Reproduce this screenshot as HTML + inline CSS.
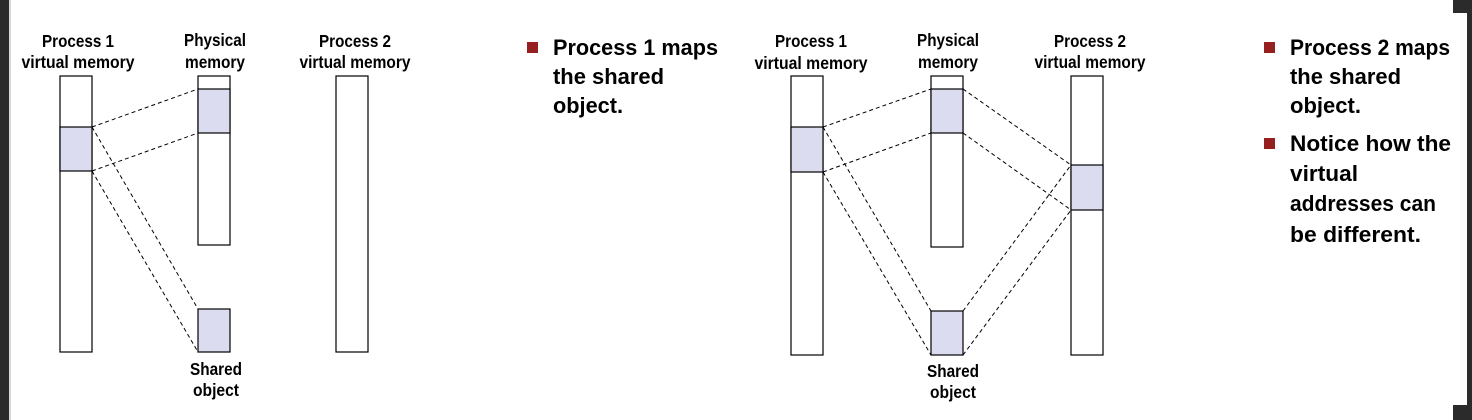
<!DOCTYPE html>
<html><head><style>
html,body{margin:0;padding:0;background:#fff;}
svg{display:block;}
.l{font-family:"Liberation Sans",Arial,sans-serif;font-weight:bold;font-size:17.5px;fill:#000;}
.b{font-family:"Liberation Sans",Arial,sans-serif;font-weight:bold;font-size:22px;fill:#000;}
</style></head><body>
<svg width="1472" height="420" viewBox="0 0 1472 420" xmlns="http://www.w3.org/2000/svg">
<rect x="0" y="0" width="1472" height="420" fill="#fff"/>
<rect x="0" y="0" width="9" height="420" fill="#2b2b2b"/>
<rect x="9" y="0" width="2" height="420" fill="#d8d8d8"/>
<rect x="1453" y="0" width="19" height="13" fill="#2b2b2b"/>
<rect x="1453" y="405" width="19" height="15" fill="#2b2b2b"/>
<rect x="1467" y="0" width="5" height="420" fill="#2b2b2b"/>
<g stroke="#000" stroke-width="1.2" fill="#fff">
<rect x="60" y="76" width="32" height="276"/>
<rect x="60" y="127" width="32" height="44" fill="#dcdcf0"/>
<rect x="198" y="76" width="32" height="169"/>
<rect x="198" y="89" width="32" height="44" fill="#dcdcf0"/>
<rect x="198" y="309" width="32" height="43" fill="#dcdcf0"/>
<rect x="336" y="76" width="32" height="276"/>
<rect x="791" y="76" width="32" height="279"/>
<rect x="791" y="127" width="32" height="45" fill="#dcdcf0"/>
<rect x="931" y="76" width="32" height="171"/>
<rect x="931" y="89" width="32" height="44" fill="#dcdcf0"/>
<rect x="931" y="311" width="32" height="44" fill="#dcdcf0"/>
<rect x="1071" y="76" width="32" height="279"/>
<rect x="1071" y="165" width="32" height="45" fill="#dcdcf0"/>
</g>
<g stroke="#000" stroke-width="1" stroke-dasharray="4,3" fill="none">
<line x1="92" y1="127" x2="198" y2="89"/>
<line x1="92" y1="171" x2="198" y2="133"/>
<line x1="92" y1="127" x2="198" y2="309"/>
<line x1="92" y1="171" x2="198" y2="352"/>
<line x1="823" y1="127" x2="931" y2="89"/>
<line x1="823" y1="172" x2="931" y2="133"/>
<line x1="823" y1="127" x2="931" y2="311"/>
<line x1="823" y1="172" x2="931" y2="355"/>
<line x1="963" y1="89" x2="1071" y2="165"/>
<line x1="963" y1="133" x2="1071" y2="210"/>
<line x1="963" y1="311" x2="1071" y2="165"/>
<line x1="963" y1="355" x2="1071" y2="210"/>
</g>
<g class="l" text-anchor="middle">
<text x="78" y="47" textLength="72" lengthAdjust="spacingAndGlyphs">Process 1</text>
<text x="78" y="68" textLength="113" lengthAdjust="spacingAndGlyphs">virtual memory</text>
<text x="215" y="46" textLength="62" lengthAdjust="spacingAndGlyphs">Physical</text>
<text x="215" y="68" textLength="60" lengthAdjust="spacingAndGlyphs">memory</text>
<text x="355" y="47" textLength="72" lengthAdjust="spacingAndGlyphs">Process 2</text>
<text x="355" y="68" textLength="111" lengthAdjust="spacingAndGlyphs">virtual memory</text>
<text x="216" y="375" textLength="52" lengthAdjust="spacingAndGlyphs">Shared</text>
<text x="216" y="396" textLength="46" lengthAdjust="spacingAndGlyphs">object</text>
<text x="811" y="47" textLength="72" lengthAdjust="spacingAndGlyphs">Process 1</text>
<text x="811" y="69" textLength="113" lengthAdjust="spacingAndGlyphs">virtual memory</text>
<text x="948" y="46" textLength="62" lengthAdjust="spacingAndGlyphs">Physical</text>
<text x="948" y="68" textLength="60" lengthAdjust="spacingAndGlyphs">memory</text>
<text x="1090" y="47" textLength="72" lengthAdjust="spacingAndGlyphs">Process 2</text>
<text x="1090" y="68" textLength="111" lengthAdjust="spacingAndGlyphs">virtual memory</text>
<text x="953" y="377" textLength="52" lengthAdjust="spacingAndGlyphs">Shared</text>
<text x="953" y="398" textLength="46" lengthAdjust="spacingAndGlyphs">object</text>
</g>
<rect x="527" y="42" width="11" height="11" fill="#962020"/>
<rect x="1264" y="42" width="11" height="11" fill="#962020"/>
<rect x="1264" y="138" width="11" height="11" fill="#962020"/>
<g class="b">
<text x="553" y="55" textLength="165" lengthAdjust="spacingAndGlyphs">Process 1  maps</text>
<text x="553" y="84" textLength="111" lengthAdjust="spacingAndGlyphs">the shared</text>
<text x="553" y="113" textLength="70" lengthAdjust="spacingAndGlyphs">object.</text>
<text x="1290" y="55" textLength="160" lengthAdjust="spacingAndGlyphs">Process 2 maps</text>
<text x="1290" y="84" textLength="111" lengthAdjust="spacingAndGlyphs">the shared</text>
<text x="1290" y="113" textLength="71" lengthAdjust="spacingAndGlyphs">object.</text>
<text x="1290" y="151" textLength="161" lengthAdjust="spacingAndGlyphs">Notice how the</text>
<text x="1290" y="181" textLength="68" lengthAdjust="spacingAndGlyphs">virtual</text>
<text x="1290" y="211" textLength="146" lengthAdjust="spacingAndGlyphs">addresses can</text>
<text x="1290" y="242" textLength="131" lengthAdjust="spacingAndGlyphs">be different.</text>
</g>
</svg>
</body></html>
